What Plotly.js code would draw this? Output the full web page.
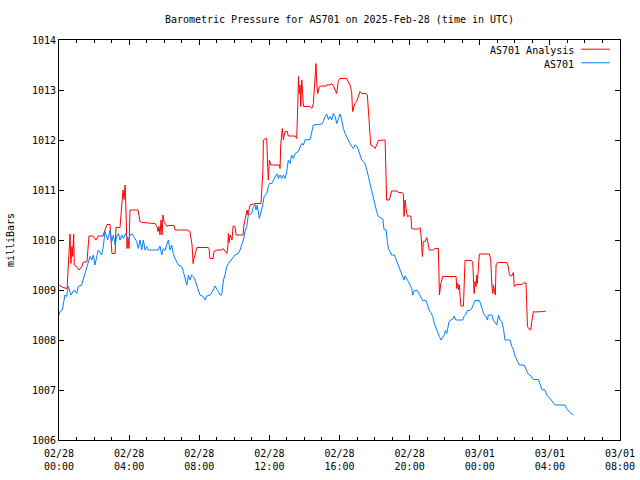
<!DOCTYPE html>
<html>
<head>
<meta charset="utf-8">
<script src="https://cdn.plot.ly/plotly-3.0.1.min.js"></script>
<style>
html,body{margin:0;padding:0;background:#fff;}
#chart{width:640px;height:480px;}
</style>
</head>
<body>
<div id="chart"></div>
<script>
// Hours since 2025-02-28 00:00 UTC
const analysisHours = [0.00,0.23,0.46,0.51,0.57,0.63,0.68,0.74,0.78,0.84,0.87,0.97,1.14,1.31,1.37,1.60,1.65,1.71,1.94,2.11,2.23,2.51,2.62,2.74,2.91,2.97,3.02,3.20,3.25,3.48,3.59,3.65,3.71,3.74,3.77,3.82,3.88,3.94,3.99,4.05,4.51,4.62,4.74,5.48,5.59,5.65,5.71,5.76,5.82,5.88,5.93,5.99,6.16,6.22,6.56,6.62,7.30,7.47,7.59,7.65,7.70,7.87,8.50,8.56,8.61,8.79,8.84,9.01,9.30,9.36,9.58,9.64,9.66,9.70,9.76,9.87,9.93,10.04,10.10,10.50,10.55,10.73,10.78,10.84,10.90,11.18,11.52,11.63,11.66,11.79,11.85,11.89,11.94,12.00,12.08,12.57,12.61,12.65,12.74,12.80,12.89,13.02,13.08,13.46,13.56,13.62,13.66,13.71,13.75,13.79,13.85,13.90,13.94,14.32,14.42,14.51,14.55,14.60,14.66,14.70,14.76,14.85,14.99,15.27,15.31,15.46,15.56,15.65,15.84,15.93,16.03,16.41,16.50,16.60,16.69,16.75,16.83,16.89,16.98,17.07,17.17,17.27,17.51,17.59,17.70,17.78,17.93,18.03,18.12,18.22,18.60,18.64,18.69,18.84,18.92,18.98,19.30,19.36,19.55,19.64,19.68,19.74,19.80,19.87,19.93,20.07,20.12,20.22,20.50,20.60,20.65,20.73,20.78,20.88,20.98,21.03,21.12,21.35,21.45,21.64,21.68,21.70,21.78,21.89,22.02,22.65,22.69,22.75,22.80,22.84,22.88,22.93,23.07,23.12,23.16,23.54,23.60,23.68,23.73,23.79,23.83,23.86,23.92,23.98,24.55,24.63,24.69,24.74,24.78,24.83,24.89,24.93,25.01,25.54,25.63,25.69,25.82,25.92,25.97,26.11,26.40,26.49,26.64,26.68,26.72,26.83,26.91,26.97,27.06,27.16,27.54,27.63,27.77];
const analysisValues = [1009.10,1009.05,1009.03,1009.31,1009.83,1010.12,1009.53,1009.87,1009.67,1010.12,1009.50,1009.48,1009.40,1009.47,1009.55,1009.57,1009.81,1010.08,1010.08,1010.00,1010.08,1010.08,1010.20,1010.31,1010.31,1009.90,1009.73,1009.73,1010.25,1010.25,1010.81,1011.00,1010.81,1011.08,1011.10,1010.60,1009.83,1010.03,1009.83,1010.60,1010.60,1010.37,1010.35,1010.33,1010.27,1010.17,1010.27,1010.10,1010.40,1010.10,1010.50,1010.37,1010.27,1010.29,1010.29,1010.20,1010.20,1010.17,1009.90,1009.53,1009.63,1009.85,1009.85,1009.83,1009.63,1009.63,1009.77,1009.80,1009.80,1009.83,1009.73,1009.90,1010.13,1009.95,1010.10,1010.00,1010.28,1010.27,1010.10,1010.10,1010.30,1010.60,1010.50,1010.61,1010.70,1010.73,1010.73,1011.37,1012.00,1012.03,1012.03,1011.60,1011.20,1011.60,1011.50,1011.50,1011.43,1011.93,1012.23,1012.00,1012.17,1012.17,1012.08,1012.08,1012.03,1012.70,1013.27,1012.93,1013.10,1012.67,1013.20,1012.93,1012.67,1012.67,1012.63,1012.73,1012.93,1013.13,1013.53,1013.13,1012.93,1013.07,1013.08,1013.08,1013.11,1013.10,1013.13,1013.08,1012.93,1013.17,1013.23,1013.23,1013.17,1013.10,1012.97,1012.57,1012.67,1012.73,1012.77,1012.87,1012.97,1012.93,1012.93,1012.90,1012.20,1011.90,1011.87,1011.83,1011.90,1011.99,1012.00,1011.40,1010.80,1010.80,1010.90,1010.98,1010.98,1010.95,1010.95,1010.93,1010.47,1010.80,1010.63,1010.47,1010.48,1010.48,1010.23,1010.22,1010.22,1010.25,1010.10,1009.67,1009.97,1009.97,1010.05,1009.95,1009.80,1009.80,1009.83,1009.83,1009.37,1008.90,1009.13,1009.27,1009.27,1009.27,1009.03,1009.13,1009.00,1009.10,1008.87,1008.68,1008.68,1009.13,1009.59,1009.59,1009.55,1008.93,1009.17,1009.07,1009.30,1009.13,1009.53,1009.72,1009.72,1009.60,1009.10,1008.93,1009.10,1009.00,1008.90,1009.50,1009.55,1009.55,1009.47,1009.30,1009.28,1009.35,1009.07,1009.11,1009.11,1009.14,1009.14,1008.73,1008.27,1008.21,1008.20,1008.37,1008.57,1008.56,1008.56,1008.57,1008.58];

const as701Hours = [0.00,0.06,0.19,0.30,0.34,0.44,0.53,0.68,0.87,1.01,1.10,1.29,1.48,1.67,1.77,1.87,1.96,2.05,2.15,2.24,2.43,2.53,2.62,2.78,2.91,3.01,3.10,3.20,3.29,3.39,3.48,3.58,3.67,3.80,3.95,4.05,4.18,4.34,4.43,4.52,4.62,4.72,4.81,4.91,5.00,5.10,5.67,5.76,5.86,5.95,6.05,6.14,6.24,6.33,6.43,6.52,6.62,6.81,7.00,7.09,7.19,7.29,7.38,7.47,7.57,7.66,7.76,7.86,7.95,8.04,8.23,8.33,8.43,8.62,8.80,8.90,9.09,9.19,9.28,9.38,9.47,9.57,9.66,9.85,10.04,10.23,10.33,10.42,10.52,10.61,10.71,10.80,10.99,11.09,11.18,11.24,11.31,11.43,11.51,11.62,11.70,11.85,11.94,12.00,12.14,12.23,12.38,12.46,12.51,12.61,12.70,12.80,12.89,12.99,13.08,13.18,13.27,13.37,13.46,13.65,13.75,13.84,13.94,14.03,14.32,14.41,14.51,14.99,15.08,15.18,15.27,15.37,15.46,15.56,15.65,15.75,15.84,15.94,16.03,16.13,16.22,16.32,16.42,16.51,16.60,16.70,16.79,16.89,16.98,17.08,17.17,17.27,17.46,17.55,17.65,17.74,17.84,17.93,18.03,18.12,18.22,18.47,18.54,18.66,18.73,18.79,18.88,18.98,19.13,19.23,19.30,19.42,19.50,19.59,19.68,19.74,19.84,19.93,20.03,20.12,20.18,20.27,20.44,20.56,20.64,20.75,20.94,21.01,21.11,21.21,21.32,21.41,21.51,21.60,21.70,21.79,21.89,21.98,22.04,22.12,22.25,22.35,22.46,22.54,22.63,23.03,23.10,23.22,23.29,23.45,23.54,23.64,23.73,23.98,24.06,24.17,24.25,24.36,24.44,24.49,24.69,24.78,24.88,24.97,25.07,25.16,25.26,25.35,25.44,25.73,25.83,25.92,26.01,26.11,26.26,26.53,26.65,26.78,26.87,27.06,27.35,27.44,27.54,27.72,27.82,28.01,28.16,28.30,28.87,28.96,29.15,29.34];
const as701Values = [1008.50,1008.57,1008.60,1008.80,1008.90,1008.87,1009.08,1008.90,1009.00,1008.93,1009.07,1009.10,1009.33,1009.60,1009.67,1009.60,1009.70,1009.50,1009.63,1009.80,1009.70,1009.87,1010.17,1010.00,1010.20,1009.97,1010.10,1009.90,1010.07,1010.13,1010.00,1010.10,1010.03,1010.13,1010.00,1010.10,1010.12,1010.03,1009.97,1009.83,1010.00,1009.80,1010.00,1009.80,1009.87,1009.80,1009.80,1009.88,1009.70,1009.83,1009.79,1009.90,1010.00,1009.80,1009.90,1009.73,1009.63,1009.50,1009.47,1009.37,1009.23,1009.10,1009.30,1009.20,1009.30,1009.27,1009.20,1009.10,1009.03,1008.90,1008.87,1008.80,1008.88,1008.90,1009.00,1009.08,1008.97,1008.90,1008.90,1009.20,1009.30,1009.47,1009.53,1009.61,1009.70,1009.73,1009.80,1009.90,1010.00,1010.17,1010.27,1010.50,1010.53,1010.67,1010.71,1010.60,1010.70,1010.43,1010.53,1010.70,1010.87,1010.93,1011.07,1011.13,1011.13,1011.20,1011.30,1011.32,1011.23,1011.30,1011.23,1011.30,1011.23,1011.37,1011.60,1011.53,1011.70,1011.63,1011.73,1011.77,1011.87,1011.93,1011.90,1012.00,1012.01,1012.13,1012.30,1012.32,1012.37,1012.47,1012.52,1012.41,1012.47,1012.40,1012.53,1012.47,1012.33,1012.43,1012.52,1012.40,1012.23,1012.13,1012.05,1011.97,1011.93,1011.87,1011.83,1011.90,1011.88,1011.80,1011.70,1011.60,1011.53,1011.43,1011.27,1011.13,1010.97,1010.83,1010.70,1010.57,1010.47,1010.42,1010.21,1010.20,1009.97,1009.83,1009.77,1009.70,1009.70,1009.61,1009.57,1009.47,1009.40,1009.30,1009.20,1009.28,1009.23,1009.17,1009.10,1009.03,1008.90,1008.99,1008.99,1008.92,1008.87,1008.79,1008.79,1008.70,1008.60,1008.55,1008.47,1008.33,1008.23,1008.13,1008.07,1008.00,1008.05,1008.10,1008.19,1008.13,1008.37,1008.40,1008.41,1008.48,1008.40,1008.40,1008.47,1008.52,1008.59,1008.59,1008.63,1008.70,1008.79,1008.79,1008.70,1008.61,1008.50,1008.47,1008.40,1008.50,1008.50,1008.40,1008.33,1008.30,1008.50,1008.40,1008.37,1008.23,1008.00,1008.00,1007.87,1007.81,1007.68,1007.60,1007.50,1007.50,1007.41,1007.31,1007.30,1007.21,1007.21,1007.10,1007.01,1007.00,1006.90,1006.83,1006.77,1006.70,1006.70,1006.63,1006.55,1006.50];

const xTickHours = [0,4,8,12,16,20,24,28,32];
const xTickLabels = ['02/28<br>00:00','02/28<br>04:00','02/28<br>08:00','02/28<br>12:00','02/28<br>16:00','02/28<br>20:00','03/01<br>00:00','03/01<br>04:00','03/01<br>08:00'];
const seriesNames = ['AS701 Analysis','AS701'];
const seriesColors = ['#ff0000','#0080ff'];
const chartTitle = 'Barometric Pressure for AS701 on 2025-Feb-28 (time in UTC)';
const yTitle = 'milliBars';

const FONT = 'DejaVu Sans Mono, monospace';

const traces = [
  {x: analysisHours, y: analysisValues, type:'scatter', mode:'lines', name: seriesNames[0],
   line:{color: seriesColors[0], width:1}, hoverinfo:'skip', showlegend:false},
  {x: as701Hours, y: as701Values, type:'scatter', mode:'lines', name: seriesNames[1],
   line:{color: seriesColors[1], width:1}, hoverinfo:'skip', showlegend:false}
];

// custom gnuplot-like key (text left of the line sample)
const keyRows = [0.974, 0.94];
const annotations = seriesNames.map((n,i)=>({
  xref:'paper', yref:'paper', x:0.921, y:keyRows[i], xanchor:'right', yanchor:'middle',
  text:n, showarrow:false, font:{family:FONT, size:10, color:'#000'}
}));
const shapes = seriesNames.map((n,i)=>({
  type:'line', xref:'paper', yref:'paper', x0:0.931, x1:0.982, y0:keyRows[i]+0.003, y1:keyRows[i]+0.003,
  line:{color:seriesColors[i], width:1}
}));

const layout = {
  width:640, height:480,
  margin:{l:59, r:20, t:40, b:40},
  paper_bgcolor:'#fff', plot_bgcolor:'#fff',
  font:{family:FONT, size:10, color:'#000'},
  title:{text:chartTitle, x:0.5, xref:'paper', y:1-19/480, yref:'container', yanchor:'middle',
         font:{family:FONT, size:10, color:'#000'}},
  xaxis:{range:[0,32], tickmode:'array', tickvals:xTickHours, ticktext:xTickLabels,
         ticks:'inside', ticklen:5, tickcolor:'#000', tickwidth:1, ticklabelstandoff:4,
         minor:{tickmode:'linear', tick0:0, dtick:1, ticks:'inside', ticklen:3, tickcolor:'#000', showgrid:false},
         showline:true, linecolor:'#000', linewidth:1, mirror:'allticks',
         showgrid:false, zeroline:false, fixedrange:true,
         tickfont:{family:FONT, size:10, color:'#000'}},
  yaxis:{range:[1006,1014], tickmode:'linear', tick0:1006, dtick:1,
         ticks:'inside', ticklen:5, tickcolor:'#000', tickwidth:1,
         showline:true, linecolor:'#000', linewidth:1, mirror:'allticks',
         showgrid:false, zeroline:false, fixedrange:true,
         tickfont:{family:FONT, size:10, color:'#000'},
         title:{text:yTitle, font:{family:FONT, size:10, color:'#000'}, standoff:15}},
  annotations: annotations,
  shapes: shapes,
  showlegend:false
};

Plotly.newPlot('chart', traces, layout, {staticPlot:true, displayModeBar:false});
</script>
</body>
</html>
